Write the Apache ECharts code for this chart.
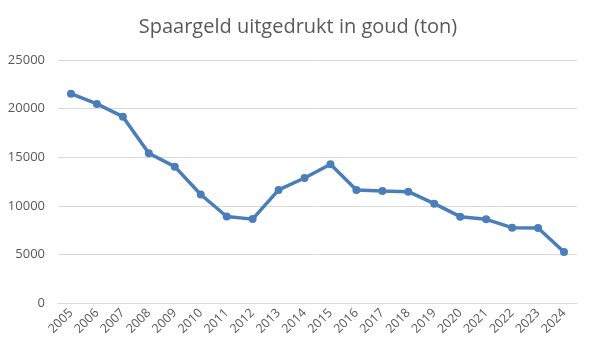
<!DOCTYPE html>
<html><head><meta charset="utf-8">
<script src="https://cdn.jsdelivr.net/npm/echarts@6/dist/echarts.min.js"></script>
<style>html,body{margin:0;padding:0;background:#fff}#c{width:596px;height:356px}</style>
</head><body><div id="c"></div>
<script>
const years = ['2005','2006','2007','2008','2009','2010','2011','2012','2013','2014','2015','2016','2017','2018','2019','2020','2021','2022','2023','2024'];
const goudTon = [21530,20480,19170,15410,14030,11160,8900,8630,11630,12860,14280,11630,11520,11450,10220,8880,8610,7750,7720,5250];
const titleText = 'Spaargeld uitgedrukt in goud (ton)';

const chart = echarts.init(document.getElementById('c'), null, {renderer:'canvas'});
chart.setOption({
  animation:false,
  backgroundColor:'#fff',
  title:{text:titleText,left:'center',top:12,textStyle:{fontFamily:'Open Sans',fontSize:20,fontWeight:'normal',color:'#595959'}},
  grid:{left:58,right:19,top:60,bottom:53,containLabel:false},
  xAxis:{type:'category',data:years,boundaryGap:true,
    axisLine:{show:true,lineStyle:{color:'#d9d9d9'}},axisTick:{show:false},
    axisLabel:{rotate:45,interval:0,color:'#595959',fontFamily:'Open Sans',fontSize:12.5,margin:8}},
  yAxis:{type:'value',min:0,max:25000,interval:5000,
    axisLine:{show:false},axisTick:{show:false},
    splitLine:{lineStyle:{color:'#d9d9d9',width:1}},
    axisLabel:{color:'#595959',fontFamily:'Open Sans',fontSize:13,margin:13,formatter:v=>String(v)}},
  series:[{type:'line',data:goudTon,symbol:'circle',symbolSize:8,
    lineStyle:{color:'#4a7ebb',width:3.5},itemStyle:{color:'#4a7ebb'}}]
});
</script></body></html>
